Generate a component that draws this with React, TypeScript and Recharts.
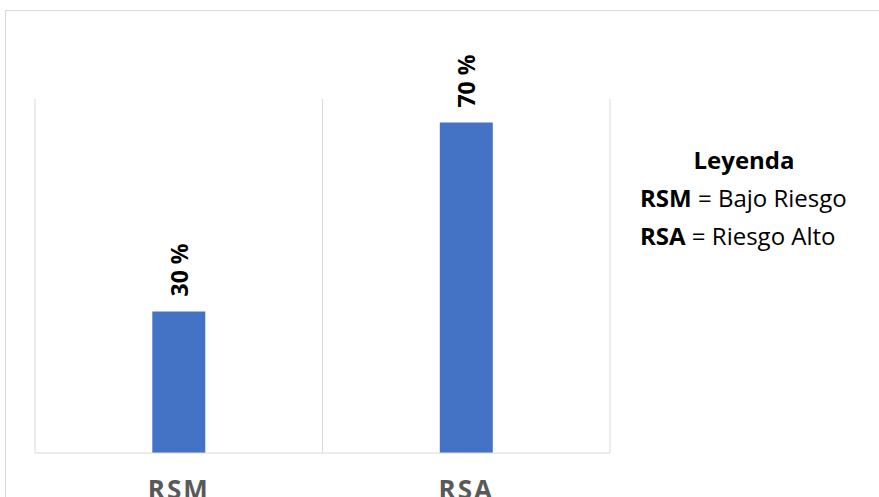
import React from 'react';
import { BarChart, Bar, XAxis, YAxis, CartesianGrid, LabelList } from 'recharts';

const categories = ['RSM', 'RSA'];
const values = [30, 70];
const valueLabels = ['30 %', '70 %'];
const legendTitle = 'Leyenda';
const legendLines = [
  { key: 'RSM', text: ' = Bajo Riesgo' },
  { key: 'RSA', text: ' = Riesgo Alto' },
];

const data = categories.map((c, i) => ({ name: c, value: values[i], label: valueLabels[i] }));

const FONT = '"Open Sans", "Noto Sans", sans-serif';

const RotLabel = (props: any) => {
  const { x, y, width, value } = props;
  const cx = x + width / 2;
  const ty = y - 15;
  return (
    <text
      x={cx}
      y={ty}
      transform={`rotate(-90, ${cx}, ${ty})`}
      textAnchor="start"
      dominantBaseline="central"
      fontFamily={FONT}
      fontWeight="bold"
      fontSize={23}
      fill="#000"
    >
      {value}
    </text>
  );
};

const Tick = (props: any) => {
  const { x, y, payload } = props;
  return (
    <text
      x={x}
      y={y + 38}
      textAnchor="middle"
      fontFamily={FONT}
      fontWeight="bold"
      fontSize={26}
      letterSpacing={2}
      fill="#595959"
    >
      {payload.value}
    </text>
  );
};

export default function App() {
  return (
    <div style={{ position: 'absolute', left: 0, top: 0, width: 879, height: 497, overflow: 'hidden', background: '#fff' }}>
      <div style={{ position: 'absolute', left: 5, top: 10, width: 900, height: 520, border: '1px solid #d9d9d9', boxSizing: 'border-box' }} />
      <div style={{ position: 'absolute', left: 0, top: 0 }}>
        <BarChart
          width={879}
          height={497}
          data={data}
          margin={{ top: 99, right: 269, bottom: 0, left: 35 }}
          barCategoryGap="40.8%"
        >
          <CartesianGrid
            horizontal={false}
            stroke="#d9d9d9"
            verticalCoordinatesGenerator={({ offset }: any) => [
              offset.left,
              offset.left + offset.width / 2,
              offset.left + offset.width,
            ]}
          />
          <YAxis hide domain={[0, 75]} />
          <XAxis
            dataKey="name"
            height={44}
            axisLine={{ stroke: '#d9d9d9' }}
            tickLine={false}
            tick={<Tick />}
          />
          <Bar dataKey="value" fill="#4472c4" isAnimationActive={false}>
            <LabelList dataKey="label" content={<RotLabel />} />
          </Bar>
        </BarChart>
      </div>
      <div style={{ position: 'absolute', left: 640, top: 141, fontFamily: FONT, fontSize: 24, lineHeight: '38px', color: '#000' }}>
        <div style={{ textAlign: 'center', fontWeight: 'bold', width: 208 }}>{legendTitle}</div>
        {legendLines.map((l) => (
          <div key={l.key} style={{ whiteSpace: 'nowrap' }}>
            <b>{l.key}</b>
            {l.text}
          </div>
        ))}
      </div>
    </div>
  );
}
